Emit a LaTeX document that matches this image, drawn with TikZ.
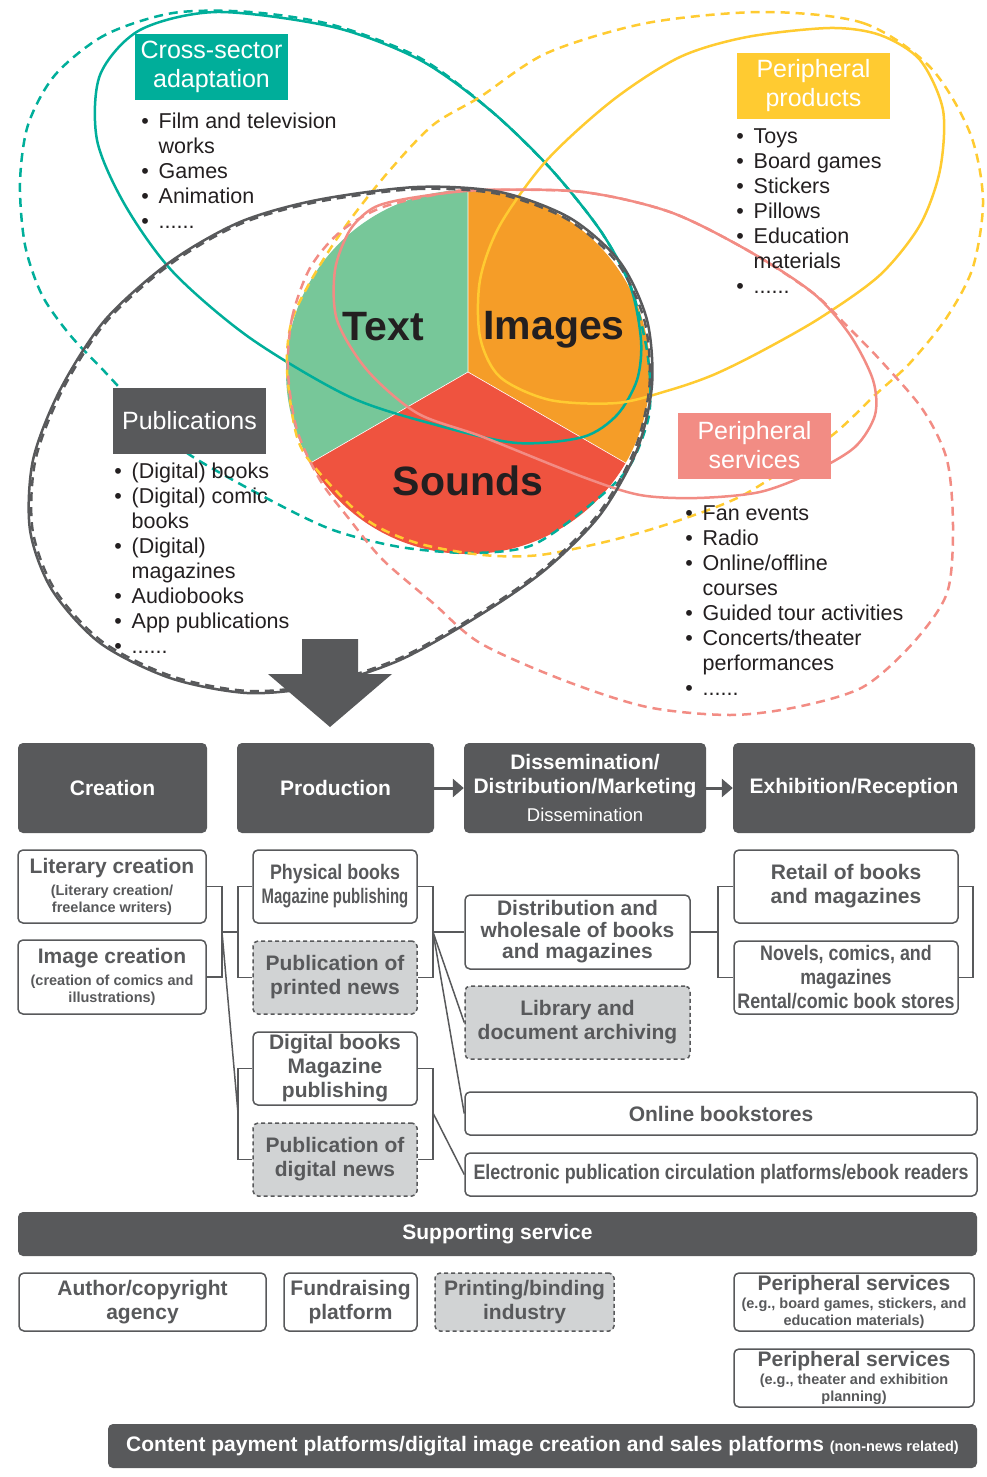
\documentclass[tikz,border=0pt]{standalone}
\usepackage{fontspec}
\setmainfont{Liberation Sans}
\newfontfamily\narrowfont[FakeStretch=0.85]{Liberation Sans}
\newfontfamily\narrowerfont[FakeStretch=0.71]{Liberation Sans}
\usepackage{tikz}
\usetikzlibrary{arrows.meta}
\usetikzlibrary{positioning}
\definecolor{dgray}{HTML}{58595B}
\definecolor{lgray}{HTML}{D1D3D4}
\definecolor{ink}{HTML}{231F20}
\definecolor{tealc}{HTML}{00AE9A}
\definecolor{yellowc}{HTML}{FFCB31}
\definecolor{salmonc}{HTML}{F28C84}
\definecolor{textgreen}{HTML}{77C799}
\definecolor{imgorange}{HTML}{F59D28}
\definecolor{sndred}{HTML}{EF533F}
\newcommand{\headsize}{\fontsize{21}{24}\selectfont}
\newcommand{\notesize}{\fontsize{14.5}{17}\selectfont}
\newcommand{\itemsize}{\fontsize{21.5}{25}\selectfont}
\newcommand{\tagsize}{\fontsize{25}{29}\selectfont}
\newcommand{\bul}{\makebox[0pt][c]{\textbullet}\hspace{13.5pt}}
\newcommand{\cont}{\hspace*{13.5pt}}
\tikzstyle{every node}+=[inner sep=0pt]
\tikzstyle{headbox} = [rectangle, fill=dgray, text=white, font=\headsize\bfseries, align=center, rounded corners=5pt]
\tikzstyle{plainbox} = [rectangle, draw=dgray, line width=1.5pt, fill=white, text=dgray, font=\headsize\bfseries, align=center, rounded corners=5pt]
\tikzstyle{newsbox} = [plainbox, fill=lgray, dash pattern=on 4pt off 3pt]
\tikzstyle{tag} = [rectangle, text=white, font=\tagsize, align=center, minimum width=153pt, minimum height=66pt]
\tikzstyle{items} = [anchor=north west, align=left, font=\itemsize, text=ink]
\tikzstyle{word} = [anchor=base, font=\fontsize{41}{45}\selectfont\bfseries, text=ink]
\tikzstyle{line} = [draw=dgray, line width=1.5pt]
\tikzstyle{flow} = [draw=dgray, line width=3pt, -{Triangle[length=11pt,width=18pt]}]
\tikzstyle{ring} = [line width=2.5pt]
\tikzstyle{ringdash} = [line width=2.5pt, dash pattern=on 9pt off 6pt]

\begin{document}
\begin{tikzpicture}[x=1pt, y=-1pt]
\useasboundingbox (0,0) rectangle (986,1477);
% Content circle
\fill[textgreen] (468,372) -- (468,190) arc[start angle=90, end angle=210, radius=182pt] -- cycle;
\fill[imgorange] (468,372) -- (468,190) arc[start angle=90, end angle=-30, radius=182pt] -- cycle;
\fill[sndred] (468,372) -- (310.4,463) arc[start angle=210, end angle=330, radius=182pt] -- cycle;
\draw[white, line width=0.6pt] (468,190) -- (468,372) -- (310.4,463) (468,372) -- (625.6,463);
% Sector outlines
\draw[tealc, ringdash] plot[smooth cycle] coordinates {(173,13) (105,35) (55,75) (28,125) (20,183) (25,245) (42,295) (70,335) (105,372) (150,420) (190,455) (270,500) (333,530) (400,547) (470,553) (530,546) (580,513) (627,470) (648,420) (650,380) (645,340) (630,285) (600,230) (550,168) (490,110) (420,58) (333,25) (250,12)};
\draw[tealc, ring] plot[smooth cycle] coordinates {(217,12) (333,27) (420,60) (490,110) (550,168) (600,230) (630,285) (641,340) (637,380) (617,415) (583,437) (517,443) (440,426) (350,397) (250,338) (173,272) (125,205) (97,140) (100,75) (140,30)};
\draw[yellowc, ringdash] plot[smooth cycle] coordinates {(763,12) (863,23) (930,67) (970,133) (983,200) (973,267) (947,317) (910,363) (875,395) (830,437) (747,493) (680,520) (613,540) (540,555) (483,555) (417,543) (367,520) (317,470) (297,437) (287,370) (292,320) (317,270) (350,220) (390,170) (433,125) (480,97) (547,53) (647,23)};
\draw[yellowc, ring] plot[smooth cycle] coordinates {(500,225) (547,160) (613,100) (680,57) (747,37) (830,28) (880,35) (920,60) (943,110) (940,170) (920,225) (880,275) (820,318) (760,352) (713,375) (670,390) (617,403) (550,400) (500,377) (480,337) (480,280)};
\draw[salmonc, ringdash] plot[smooth cycle] coordinates {(288,372) (292,318) (310,268) (340,232) (383,207) (450,192) (483,190) (583,192) (670,212) (747,250) (813,293) (848,327) (882,362) (923,410) (947,460) (953,527) (947,593) (913,643) (863,687) (797,707) (730,715) (647,707) (563,680) (480,643) (433,603) (383,560) (350,520) (320,480) (297,430)};
\draw[salmonc, ring] plot[smooth cycle] coordinates {(375,207) (417,197) (483,190) (583,192) (670,212) (747,250) (813,293) (850,335) (873,380) (875,415) (855,447) (813,472) (760,492) (697,498) (640,495) (583,477) (483,437) (417,413) (367,370) (337,320) (335,270) (350,230)};
\draw[dgray, ringdash, scale around={0.992:(340,440)}] plot[smooth cycle] coordinates {(317,200) (417,187) (500,192) (570,218) (620,262) (647,320) (652,385) (637,450) (600,515) (545,570) (480,615) (400,660) (320,686) (247,693) (170,678) (100,643) (52,590) (30,530) (33,460) (60,390) (105,320) (170,262) (240,222)};
\draw[dgray, ring] plot[smooth cycle] coordinates {(317,200) (417,187) (500,192) (570,218) (620,262) (647,320) (652,385) (637,450) (600,515) (545,570) (480,615) (400,660) (320,686) (247,693) (170,678) (100,643) (52,590) (30,530) (33,460) (60,390) (105,320) (170,262) (240,222)};
% Words in the circle
\node[word] (textw) at (383.5,340) {Text};
\node[word] (imagesw) at (554,339) {Images};
\node[word] (soundsw) at (468,495) {Sounds};
% Tags and their lists
\node[tag, fill=tealc] (crosstag) at (211.5,67) {Cross-sector\\adaptation};
\node[items] (crossitems) at (145,110.5) {\strut\bul Film and television\\\cont works\\\bul Games\\\bul Animation\\\bul ......};
\node[tag, fill=yellowc] (prodtag) at (813.5,86) {Peripheral\\products};
\node[items] (proditems) at (740,125.5) {\strut\bul Toys\\\bul Board games\\\bul Stickers\\\bul Pillows\\\bul Education\\\cont materials\\\bul ......};
\node[tag, fill=dgray] (pubtag) at (189.5,421) {Publications};
\node[items] (pubitems) at (118,460.5) {\strut\bul (Digital) books\\\bul (Digital) comic\\\cont books\\\bul (Digital)\\\cont magazines\\\bul Audiobooks\\\bul App publications\\\bul ......};
\node[tag, fill=salmonc] (servtag) at (754.5,445.5) {Peripheral\\services};
\node[items] (servitems) at (689,502.5) {\strut\bul Fan events\\\bul Radio\\\bul Online/offline\\\cont courses\\\bul Guided tour activities\\\bul Concerts/theater\\\cont performances\\\bul ......};
% Big arrow
\fill[dgray] (302,639) -- (358,639) -- (358,674) -- (392,674) -- (330,727) -- (268,674) -- (302,674) -- cycle;
% Value chain heads
\node[headbox, minimum width=189pt, minimum height=90pt] (creation) at (112.5,788) {Creation};
\node[headbox, minimum width=197pt, minimum height=90pt] (production) at (335.5,788) {Production};
\node[headbox, minimum width=242pt, minimum height=90pt] (dissem) at (585,788) {Dissemination/\\Distribution/Marketing\\[4pt]{\fontsize{18.5}{20}\selectfont\mdseries Dissemination}};
\node[headbox, minimum width=242pt, minimum height=90pt] (exhib) at (854,788) {Exhibition/Reception};
% Value chain boxes
\node[plainbox, minimum width=188pt, minimum height=73pt] (literary) at (112,886.5) {Literary creation\\[-2pt]{\notesize (Literary creation/}\\[-7pt]{\notesize freelance writers)}};
\node[plainbox, minimum width=188pt, minimum height=74pt] (imagecr) at (112,977) {Image creation\\[-2pt]{\notesize (creation of comics and}\\[-7pt]{\notesize illustrations)}};
\node[plainbox, minimum width=164pt, minimum height=73pt] (physical) at (335,886.5) {{\narrowfont Physical books}\\{\narrowerfont Magazine publishing}};
\node[newsbox, minimum width=164pt, minimum height=73pt] (printed) at (335,977.5) {Publication of\\printed news};
\node[plainbox, minimum width=164pt, minimum height=73pt] (digital) at (335,1068.5) {Digital books\\Magazine\\publishing};
\node[newsbox, minimum width=164pt, minimum height=73pt] (dignews) at (335,1159.5) {Publication of\\digital news};
\node[plainbox, minimum width=225pt, minimum height=74pt] (distrib) at (577.5,932) {Distribution and\\[-2.5pt]wholesale of books\\[-2.5pt]and magazines};
\node[newsbox, minimum width=225pt, minimum height=73pt] (library) at (577.5,1022.5) {Library and\\document archiving};
\node[plainbox, minimum width=512pt, minimum height=43pt] (online) at (721,1113.5) {Online bookstores};
\node[plainbox, minimum width=512pt, minimum height=43pt] (epub) at (721,1174.5) {\narrowfont Electronic publication circulation platforms/ebook readers};
\node[plainbox, minimum width=224pt, minimum height=73pt] (retail) at (846,886.5) {Retail of books\\and magazines};
\node[plainbox, minimum width=224pt, minimum height=73pt] (novels) at (846,977.5) {{\narrowfont Novels, comics, and}\\{\narrowfont magazines}\\{\narrowfont Rental/comic book stores}};
% Supporting services
\node[headbox, minimum width=959pt, minimum height=44pt] (support) at (497.5,1234) {Supporting service};
\node[plainbox, minimum width=247pt, minimum height=58pt] (agency) at (142.5,1302) {Author/copyright\\agency};
\node[plainbox, minimum width=133pt, minimum height=58pt] (fund) at (350.5,1302) {Fundraising\\platform};
\node[newsbox, minimum width=179pt, minimum height=58pt] (printing) at (524.5,1302) {Printing/binding\\industry};
\node[plainbox, minimum width=240pt, minimum height=58pt] (periphA) at (854,1302) {Peripheral services\\[-6pt]{\notesize (e.g., board games, stickers, and}\\[-7pt]{\notesize education materials)}};
\node[plainbox, minimum width=240pt, minimum height=58pt] (periphB) at (854,1378) {Peripheral services\\[-6pt]{\notesize (e.g., theater and exhibition}\\[-7pt]{\notesize planning)}};
\node[headbox, minimum width=869pt, minimum height=44pt] (content) at (542.5,1446) {Content payment platforms/digital image creation and sales platforms {\notesize (non-news related)}};
% Fork points
\coordinate (creatfork) at (222,932);
\coordinate (prodL) at (238,932);
\coordinate (prodR) at (433,932);
\coordinate (digL) at (238,1113);
\coordinate (digR) at (433,1113);
\coordinate (exhL) at (718,932);
\coordinate (exhR) at (973,932);
% Draw edges
\path [flow] (production) -- (dissem);
\path [flow] (dissem) -- (exhib);
\path [line] (literary.east) -| (creatfork) |- (imagecr.east);
\path [line] (creatfork) -- (prodL);
\path [line] (creatfork) -- (digL);
\path [line] (physical.west) -| (prodL) |- (printed.west);
\path [line] (digital.west) -| (digL) |- (dignews.west);
\path [line] (physical.east) -| (prodR) |- (printed.east);
\path [line] (digital.east) -| (digR) |- (dignews.east);
\path [line] (prodR) -- (distrib.west);
\path [line] (prodR) -- (library.west);
\path [line] (prodR) -- (online.west);
\path [line] (digR) -- (epub.west);
\path [line] (distrib.east) -- (exhL);
\path [line] (retail.west) -| (exhL) |- (novels.west);
\path [line] (retail.east) -| (exhR) |- (novels.east);
\end{tikzpicture}
\end{document}
